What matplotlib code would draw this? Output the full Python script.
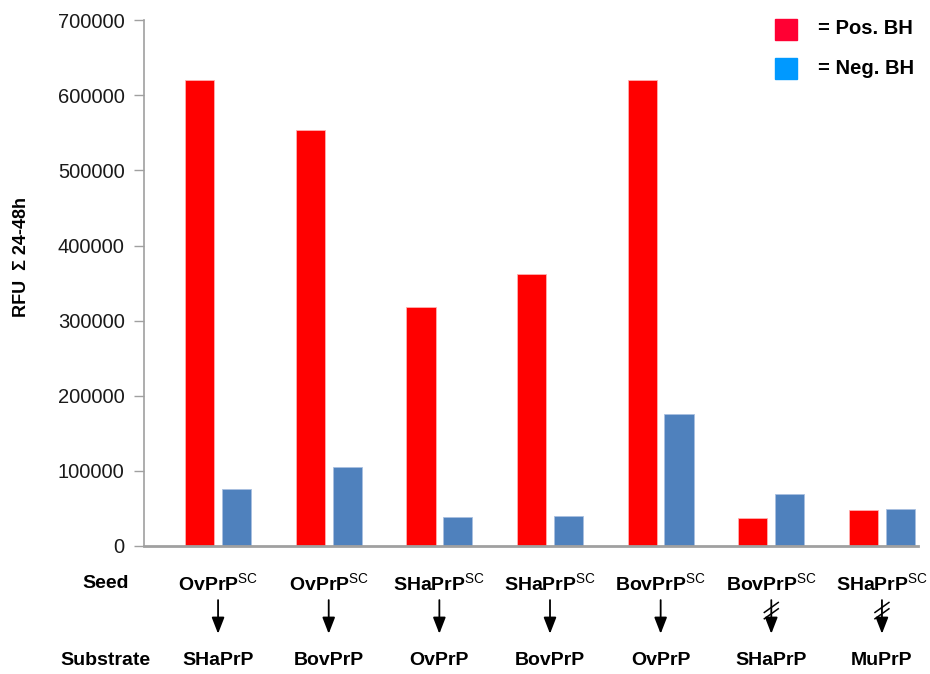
import numpy as np
import matplotlib
matplotlib.use("Agg")
import matplotlib.pyplot as plt
from matplotlib.patches import Rectangle

# values
seeds = ["OvPrP", "OvPrP", "SHaPrP", "SHaPrP", "BovPrP", "BovPrP", "SHaPrP"]
substrates = ["SHaPrP", "BovPrP", "OvPrP", "BovPrP", "OvPrP", "SHaPrP", "MuPrP"]
converts = [True, True, True, True, True, False, False]
pos_bh = [620000, 554000, 318000, 362000, 620000, 37000, 47500]
neg_bh = [76000, 105000, 39000, 40000, 176000, 69000, 49000]
yticks = [0, 100000, 200000, 300000, 400000, 500000, 600000, 700000]

plt.rcParams["font.family"] = ["Liberation Sans", "DejaVu Sans"]
plt.rcParams["mathtext.fontset"] = "custom"
plt.rcParams["mathtext.rm"] = "Liberation Sans"

fig = plt.figure(figsize=(9.3, 6.74), dpi=100)
ax = fig.add_axes([0.155, 0.19, 0.832, 0.78])

x = np.arange(len(seeds))
w = 0.265
off = 0.167
ax.bar(x - off, pos_bh, w, color="#ff0000", edgecolor="#ffb0b0", linewidth=0.6)
ax.bar(x + off, neg_bh, w, color="#4f81bd", edgecolor="#a9c0e0", linewidth=0.6)

ax.set_xlim(-0.668, 6.325)
ax.set_ylim(0, 700000)
ax.set_yticks(yticks)
ax.set_yticklabels([str(v) for v in yticks], fontsize=14.5, color="#1a1a1a")
ax.tick_params(axis="y", length=7, width=1, color="#a0a0a0", pad=7)
ax.set_xticks([])
for s in ["top", "right"]:
    ax.spines[s].set_visible(False)
ax.spines["left"].set_color("#a0a0a0")
ax.spines["left"].set_linewidth(1.2)
ax.spines["bottom"].set_color("#a0a0a0")
ax.spines["bottom"].set_linewidth(2)

ax.set_ylabel("RFU  \u03a3 24-48h", fontsize=13, fontweight="bold")
ax.yaxis.set_label_coords(-0.147, 0.549)

# seed -> substrate labels under the axis
tr = ax.get_xaxis_transform()
ax.text(-1.015, -0.072, "Seed", transform=tr, ha="center", va="center",
        fontsize=14, fontweight="bold")
ax.text(-1.015, -0.218, "Substrate", transform=tr, ha="center", va="center",
        fontsize=14, fontweight="bold")
for i in range(len(seeds)):
    ax.text(x[i], -0.072, seeds[i] + r"$^{\mathrm{SC}}$", transform=tr, ha="center",
            va="center", fontsize=14, fontweight="bold")
    ax.text(x[i], -0.218, substrates[i], transform=tr, ha="center", va="center",
            fontsize=14, fontweight="bold")
    ax.annotate("", xy=(x[i], -0.167), xytext=(x[i], -0.103), xycoords=tr, textcoords=tr,
                arrowprops=dict(arrowstyle="-|>,head_length=0.9,head_width=0.35",
                                lw=1.3, color="black",
                                mutation_scale=11, shrinkA=0, shrinkB=0),
                annotation_clip=False)
    if not converts[i]:
        for dy in [-0.117, -0.129]:
            ax.plot([x[i] - 0.063, x[i] + 0.063], [dy - 0.0095, dy + 0.0095], transform=tr,
                    color="black", lw=1.1, clip_on=False)

# legend
fig.patches.append(Rectangle((775 / 930, 1 - 40 / 674), 22 / 930, 21 / 674,
                             transform=fig.transFigure, color="#ff0033"))
fig.patches.append(Rectangle((775 / 930, 1 - 79 / 674), 22 / 930, 21 / 674,
                             transform=fig.transFigure, color="#0099ff"))
fig.text(818 / 930, 1 - 29 / 674, "= Pos. BH", fontsize=14.5, fontweight="bold", va="center")
fig.text(818 / 930, 1 - 69 / 674, "= Neg. BH", fontsize=14.5, fontweight="bold", va="center")

fig.savefig("out.png", dpi=100)
